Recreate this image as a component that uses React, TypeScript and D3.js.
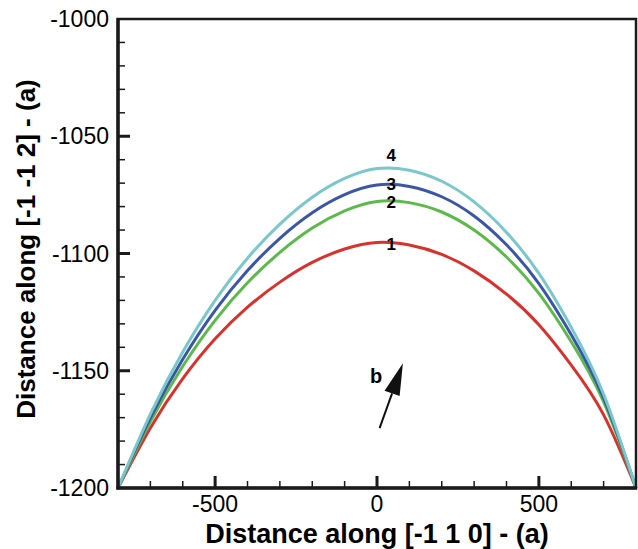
import React, { useEffect, useRef } from 'react';
import * as d3 from 'd3';

// distance along [-1 1 0] (a)
const xValues = [-800, -700, -600, -500, -400, -300, -200, -100, 0, 100, 200, 300, 400, 500, 600, 700, 800];

// distance along [-1 -1 2] (a), one array per stage
const line1 = [-1200, -1174.4, -1153.4, -1136.4, -1122.9, -1112.2, -1103.8, -1098.1, -1095.3, -1096.4, -1100.4, -1107.4, -1117.3, -1130.4, -1147.6, -1168.8, -1200];
const line2 = [-1200, -1171.8, -1148.1, -1128.5, -1112.5, -1099.5, -1089.1, -1081.8, -1077.8, -1078.3, -1082.3, -1090, -1101.5, -1117, -1137.6, -1163.3, -1200];
const line3 = [-1200, -1170.1, -1145.1, -1124.3, -1107.3, -1093.5, -1082.6, -1074.9, -1070.8, -1071.4, -1075.8, -1084, -1096.3, -1112.8, -1134.6, -1161.6, -1200];
const line4 = [-1200, -1168.5, -1142, -1120, -1102, -1087.5, -1076, -1068, -1063.8, -1064.5, -1069.2, -1078, -1091, -1108.5, -1131.5, -1160, -1200];

const seriesNames = ['1', '2', '3', '4'];
const seriesColors = ['#d8322c', '#5cba4a', '#3b56a6', '#7ac8cb'];
const labelX = 44;
const labelY = [-1098.5, -1080.6, -1072.9, -1060.4];

const xMajor = [-500, 0, 500];
const yMajor = [-1200, -1150, -1100, -1050, -1000];

// burgers vector arrow, data units
const arrowFrom = [8, -1174.5];
const arrowTo = [80, -1146.8];

const W = 638, H = 549;
const left = 118, right = 636, top = 19, bottom = 488;

const App = () => {
    const ref = useRef(null);

    useEffect(() => {
        const x = d3.scaleLinear().domain([-800, 800]).range([left, right]);
        const y = d3.scaleLinear().domain([-1200, -1000]).range([bottom, top]);

        const svg = d3.select(ref.current);
        svg.selectAll('*').remove();
        const font = 'Liberation Sans, Arial, Helvetica, sans-serif';

        const line = d3.line()
            .x((d, i) => x(xValues[i]))
            .y(d => y(d))
            .curve(d3.curveNatural);

        const all = [line1, line2, line3, line4];
        const plot = svg.append('g');
        all.forEach((s, i) => {
            plot.append('path')
                .attr('d', line(s))
                .attr('fill', 'none')
                .attr('stroke', seriesColors[i])
                .attr('stroke-width', 3);
        });

        seriesNames.forEach((n, i) => {
            svg.append('text')
                .attr('x', x(labelX))
                .attr('y', y(labelY[i]))
                .attr('text-anchor', 'middle')
                .attr('font-family', font)
                .attr('font-weight', 'bold')
                .attr('font-size', 17)
                .text(n);
        });

        // arrow
        const x0 = x(arrowFrom[0]), y0 = y(arrowFrom[1]);
        const x1 = x(arrowTo[0]), y1 = y(arrowTo[1]);
        const ang = Math.atan2(y1 - y0, x1 - x0);
        const headLen = 32, headW = 8;
        const bx = x1 - headLen * Math.cos(ang), by = y1 - headLen * Math.sin(ang);
        svg.append('line')
            .attr('x1', x0).attr('y1', y0).attr('x2', bx).attr('y2', by)
            .attr('stroke', '#111').attr('stroke-width', 2);
        svg.append('path')
            .attr('d', `M${x1},${y1}L${bx + headW * Math.sin(ang)},${by - headW * Math.cos(ang)}L${bx - headW * Math.sin(ang)},${by + headW * Math.cos(ang)}Z`)
            .attr('fill', '#111');
        svg.append('text')
            .attr('x', 376).attr('y', 383)
            .attr('text-anchor', 'middle')
            .attr('font-family', font)
            .attr('font-weight', 'bold')
            .attr('font-size', 20)
            .text('b');

        // frame
        svg.append('rect')
            .attr('x', left).attr('y', top)
            .attr('width', right - left).attr('height', bottom - top)
            .attr('fill', 'none').attr('stroke', '#1a1a1a').attr('stroke-width', 2.5);
        svg.append('line').attr('x1', left).attr('x2', left).attr('y1', top - 1).attr('y2', bottom + 1.5)
            .attr('stroke', '#1a1a1a').attr('stroke-width', 3.5);
        svg.append('line').attr('x1', left - 1.5).attr('x2', right + 1).attr('y1', bottom).attr('y2', bottom)
            .attr('stroke', '#1a1a1a').attr('stroke-width', 3.5);

        // ticks
        const ticks = svg.append('g').attr('stroke', '#1a1a1a');
        d3.range(-700, 800, 100).forEach(v => {
            const major = v % 500 === 0;
            ticks.append('line')
                .attr('x1', x(v)).attr('x2', x(v))
                .attr('y1', bottom).attr('y2', bottom - (major ? 12 : 7))
                .attr('stroke-width', major ? 3 : 1.5);
        });
        d3.range(-1190, -1000, 10).forEach(v => {
            const major = v % 50 === 0;
            ticks.append('line')
                .attr('x1', left).attr('x2', left + (major ? 12 : 7))
                .attr('y1', y(v)).attr('y2', y(v))
                .attr('stroke-width', major ? 3 : 1.5);
        });

        // tick labels
        xMajor.forEach(v => {
            svg.append('text')
                .attr('x', x(v)).attr('y', 512)
                .attr('text-anchor', 'middle')
                .attr('font-family', font)
                .attr('font-size', 23)
                .text(String(v));
        });
        yMajor.forEach(v => {
            svg.append('text')
                .attr('x', 109).attr('y', y(v) + 8)
                .attr('text-anchor', 'end')
                .attr('font-family', font)
                .attr('font-size', 23)
                .text(String(v));
        });

        // axis titles
        svg.append('text')
            .attr('x', 377).attr('y', 543)
            .attr('text-anchor', 'middle')
            .attr('font-family', font)
            .attr('font-weight', 'bold')
            .attr('font-size', 27)
            .text('Distance along [-1 1 0] - (a)');
        svg.append('text')
            .attr('transform', `translate(35,249) rotate(-90)`)
            .attr('text-anchor', 'middle')
            .attr('font-family', font)
            .attr('font-weight', 'bold')
            .attr('font-size', 26)
            .text('Distance along [-1 -1 2] - (a)');
    }, []);

    return (
        <svg ref={ref} width={W} height={H}
            style={{ position: 'absolute', left: 0, top: 0, background: '#fff' }} />
    );
};

export default App;
